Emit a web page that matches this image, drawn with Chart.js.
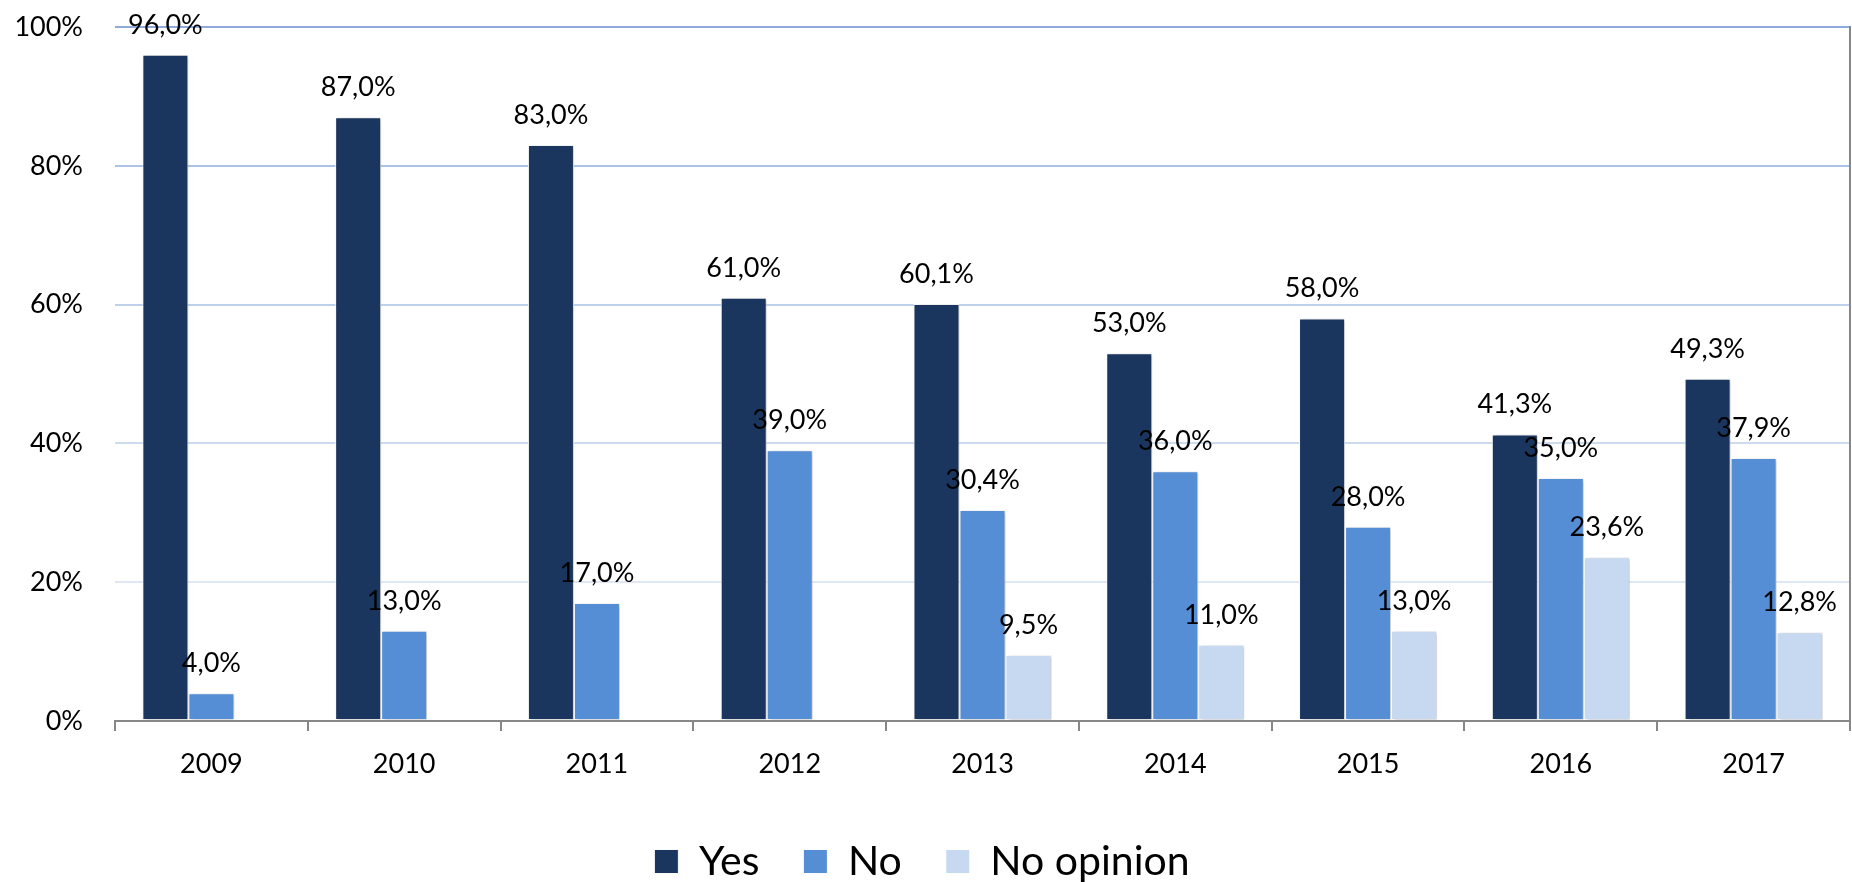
<!DOCTYPE html>
<html>
<head>
<meta charset="utf-8">
<script src="https://cdn.jsdelivr.net/npm/chart.js@4/dist/chart.umd.min.js"></script>
<style>
  html, body { margin: 0; padding: 0; background: #ffffff; }
  #wrap { width: 1852px; height: 882px; position: relative; }
</style>
</head>
<body>
<div id="wrap"><canvas id="c" width="1852" height="882"></canvas></div>
<script>
const categories = ['2009', '2010', '2011', '2012', '2013', '2014', '2015', '2016', '2017'];
const yesValues = [96.0, 87.0, 83.0, 61.0, 60.1, 53.0, 58.0, 41.3, 49.3];
const noValues = [4.0, 13.0, 17.0, 39.0, 30.4, 36.0, 28.0, 35.0, 37.9];
const noOpinionValues = [null, null, null, null, 9.5, 11.0, 13.0, 23.6, 12.8];
const seriesNames = ['Yes', 'No', 'No opinion'];
const yTickValues = [0, 20, 40, 60, 80, 100];

const fmt = v => v.toFixed(1).replace('.', ',') + '%';

const gridColors = { 0: '#dfe7f5', 20: '#dfe7f5', 40: '#cddbf0', 60: '#bfd0ec', 80: '#adc2e7', 100: '#8eaadb' };

const barLook = {
  borderColor: 'rgba(255,255,255,0.95)',
  borderWidth: 1,
  borderSkipped: false,
  categoryPercentage: 0.716,
  barPercentage: 1.0
};

const shadowAndLabels = {
  id: 'shadowAndLabels',
  beforeDatasetsDraw(chart) {
    const ctx = chart.ctx;
    ctx.save();
    ctx.shadowColor = 'rgba(0,0,0,0.22)';
    ctx.shadowBlur = 4;
    ctx.shadowOffsetX = 2;
    ctx.shadowOffsetY = 1;
  },
  afterDatasetsDraw(chart) {
    const ctx = chart.ctx;
    ctx.restore();
    ctx.save();
    ctx.font = '27px Lato, "Open Sans", sans-serif';
    ctx.fillStyle = '#000000';
    ctx.textAlign = 'center';
    ctx.textBaseline = 'alphabetic';
    chart.data.datasets.forEach((ds, di) => {
      const meta = chart.getDatasetMeta(di);
      meta.data.forEach((el, i) => {
        const v = ds.data[i];
        if (v === null || v === undefined) return;
        ctx.fillText(fmt(v), el.x, el.y - 21);
      });
    });
    ctx.restore();
  }
};

const legendShift = {
  id: 'legendShift',
  afterLayout(chart) {
    const lg = chart.legend;
    if (!lg) return;
    const dx = -3, dy = 10;
    lg.left += dx; lg.right += dx;
    lg.top += dy; lg.bottom += dy;
  }
};

new Chart(document.getElementById('c'), {
  type: 'bar',
  data: {
    labels: categories,
    datasets: [
      Object.assign({ label: seriesNames[0], data: yesValues, backgroundColor: '#1b365e' }, barLook),
      Object.assign({ label: seriesNames[1], data: noValues, backgroundColor: '#558ed5' }, barLook),
      Object.assign({ label: seriesNames[2], data: noOpinionValues, backgroundColor: '#c6d9f1' }, barLook)
    ]
  },
  options: {
    responsive: false,
    animation: false,
    layout: { padding: { top: 27, right: 2, left: 0, bottom: 0 } },
    plugins: {
      tooltip: { enabled: false },
      legend: {
        position: 'bottom',
        labels: {
          boxWidth: 24,
          boxHeight: 24,
          padding: 44,
          color: '#000000',
          font: { family: 'Lato, "Open Sans", sans-serif', size: 41 }
        }
      }
    },
    scales: {
      x: {
        grid: { display: true, drawOnChartArea: false, drawTicks: true, tickLength: 10, color: '#878787', lineWidth: 2, offset: true },
        border: { display: true, color: '#878787', width: 2 },
        ticks: { color: '#000000', padding: 17, font: { family: 'Lato, "Open Sans", sans-serif', size: 27 } },
        afterFit(scale) { scale.height = 66; }
      },
      y: {
        min: 0, max: 100,
        afterBuildTicks(scale) { scale.ticks = yTickValues.map(v => ({ value: v })); },
        grid: { drawTicks: false, lineWidth: 2, color: c => gridColors[c.tick ? c.tick.value : 0] || '#dfe7f5' },
        border: { display: false },
        ticks: { color: '#000000', padding: 32, callback: v => v + '%', font: { family: 'Lato, "Open Sans", sans-serif', size: 27 } },
        afterFit(scale) { scale.width = 115; scale.paddingTop = 0; scale.paddingBottom = 0; }
      },
      y2: {
        position: 'right',
        min: 0, max: 100,
        grid: { drawOnChartArea: false, drawTicks: false },
        border: { display: true, color: '#878787', width: 2 },
        ticks: { display: false },
        afterFit(scale) { scale.width = 0; scale.paddingTop = 0; scale.paddingBottom = 0; }
      }
    }
  },
  plugins: [shadowAndLabels, legendShift]
});
</script>
</body>
</html>
